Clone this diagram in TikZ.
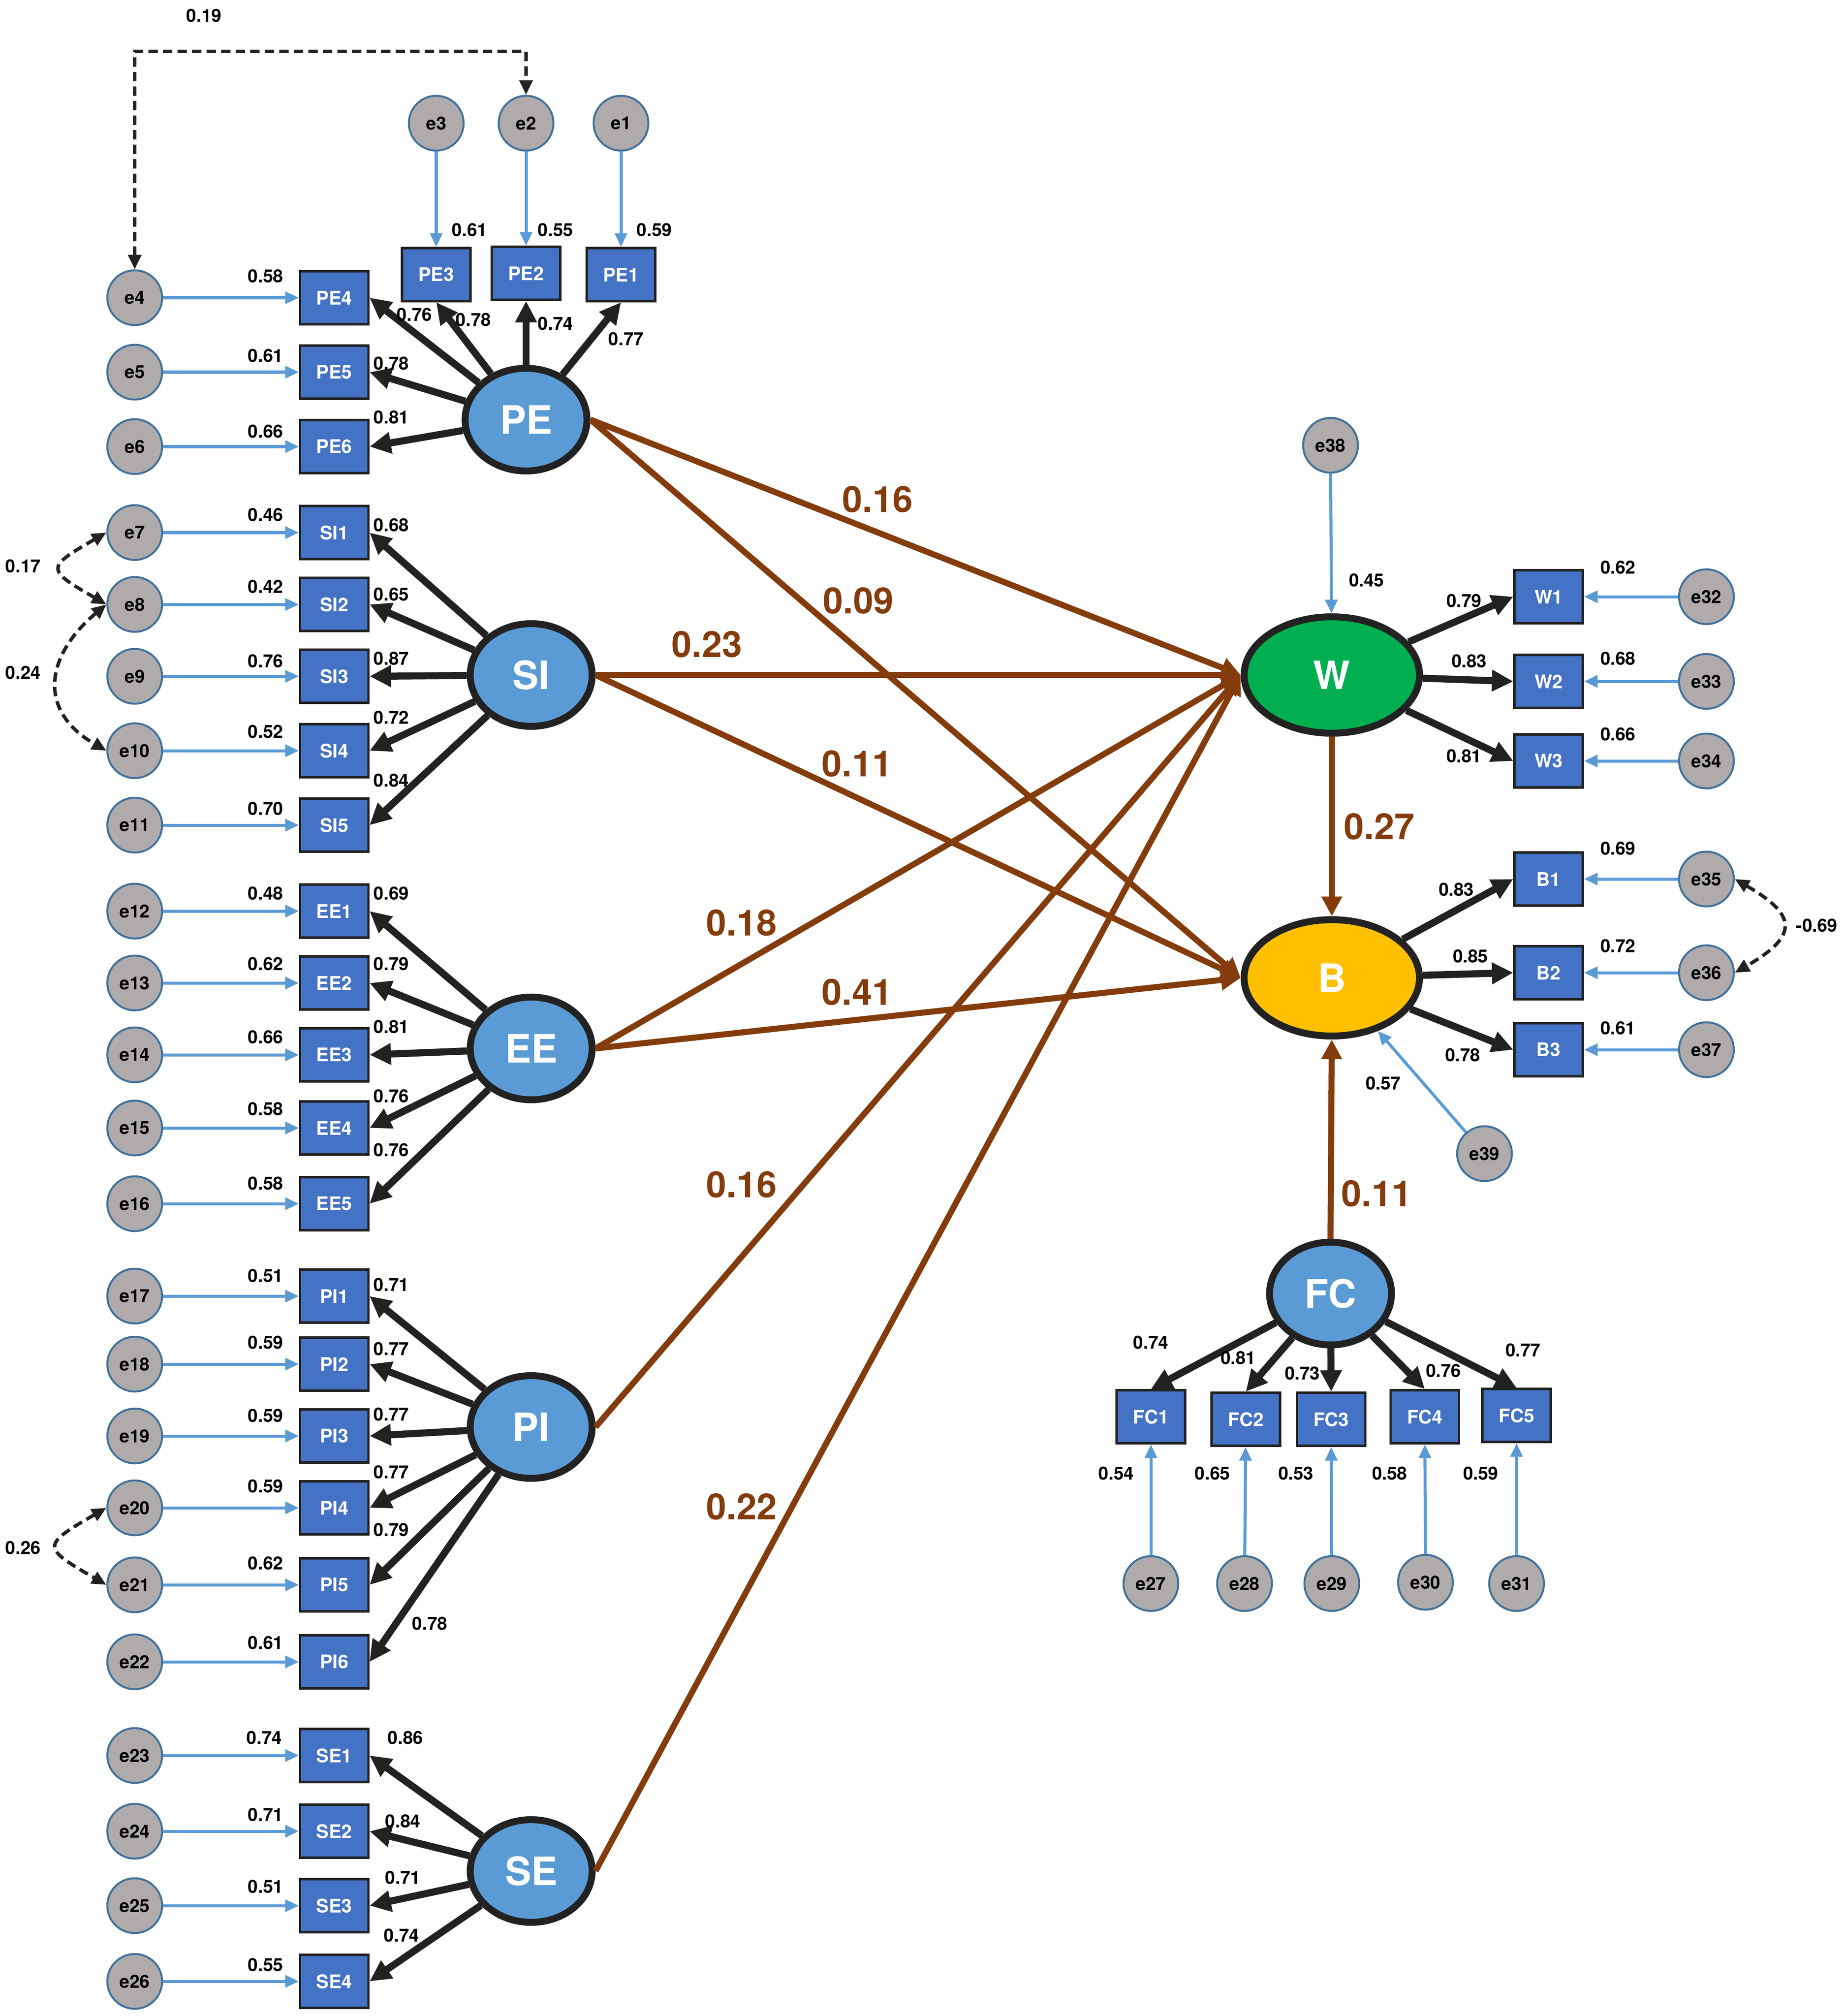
\documentclass[tikz,border=0pt]{standalone}
\usepackage{fontspec}
\setmainfont{TeX Gyre Heros}
\usetikzlibrary{arrows.meta,shapes.geometric}

\definecolor{errgray}{HTML}{AFABAB}
\definecolor{errline}{HTML}{41719C}
\definecolor{obsblue}{HTML}{4472C4}
\definecolor{latblue}{HTML}{5B9BD5}
\definecolor{wgreen}{HTML}{00B050}
\definecolor{byellow}{HTML}{FFC000}
\definecolor{pathbrown}{HTML}{843C0C}
\definecolor{darkline}{HTML}{222222}

\tikzset{
  latent/.style={ellipse, draw=darkline, line width=4.6pt, fill=latblue, text=white,
    font=\fontsize{26}{30}\selectfont\bfseries, minimum width=2.85cm, minimum height=2.4cm, inner sep=0pt},
  biglatent/.style={latent, minimum width=4.1cm, minimum height=2.72cm},
  obs/.style={rectangle, draw=darkline, line width=1.5pt, fill=obsblue, text=white,
    font=\fontsize{12.5}{14}\selectfont\bfseries, minimum width=1.6cm, minimum height=1.24cm, inner sep=0pt},
  err/.style={circle, draw=errline, line width=1.3pt, fill=errgray, text=black,
    font=\fontsize{12}{14}\selectfont\bfseries, minimum size=1.28cm, inner sep=0pt},
  num/.style={font=\fontsize{12}{14}\selectfont\bfseries, inner sep=0pt},
  coef/.style={font=\fontsize{24}{28}\selectfont\bfseries, text=pathbrown, inner sep=0pt},
  load/.style={draw=darkline, line width=4.7pt, -{Triangle[length=0.5cm,width=0.48cm]}},
  struct/.style={draw=pathbrown, line width=4pt, -{Triangle[length=0.46cm,width=0.46cm]}},
  errarr/.style={draw=latblue, line width=2pt, -{Triangle[length=0.32cm,width=0.28cm]}},
  corr/.style={draw=darkline, line width=2.3pt, dash pattern=on 0.22cm off 0.12cm,
    {Triangle[length=0.34cm,width=0.3cm]}-{Triangle[length=0.34cm,width=0.3cm]}}
}

\begin{document}
\begin{tikzpicture}[x=0.03cm, y=0.03cm]
    \useasboundingbox (0,-1571) rectangle (1437.67,0);

    \node[latent] (PE) at (410,-327) {PE};
    \node[latent] (SI) at (414,-526) {SI};
    \node[latent] (EE) at (414,-817) {EE};
    \node[latent] (PI) at (414,-1112) {PI};
    \node[latent] (SE) at (414,-1458) {SE};
    \node[latent] (FC) at (1037,-1008) {FC};
    \node[biglatent, fill=wgreen] (W) at (1038,-526) {W};
    \node[biglatent, fill=byellow] (B) at (1038,-762) {B};

    \node[err] (e3) at (340,-96) {e3};
    \node[err] (e2) at (410,-96) {e2};
    \node[err] (e1) at (484,-96) {e1};
    \node[obs] (PE3) at (340,-214) {PE3};
    \node[obs] (PE2) at (410,-213) {PE2};
    \node[obs] (PE1) at (484,-214) {PE1};
    \draw[errarr] (e3) -- (PE3);
    \draw[errarr] (e2) -- (PE2);
    \draw[errarr] (e1) -- (PE1);
    \draw[load] (PE) -- (PE3.south);
    \draw[load] (PE) -- (PE2.south);
    \draw[load] (PE) -- (PE1.south);
    \node[num] (vPE3) at (366,-179) {0.61};
    \node[num] (vPE2) at (433,-179) {0.55};
    \node[num] (vPE1) at (510,-179) {0.59};
    \node[num] (lPE3) at (369,-249) {0.78};
    \node[num] (lPE2) at (433,-252) {0.74};
    \node[num] (lPE1) at (488,-264) {0.77};

    \node[err] (e4) at (105,-232) {e4};
    \node[err] (e5) at (105,-290) {e5};
    \node[err] (e6) at (105,-348) {e6};
    \node[obs] (PE4) at (260.5,-232) {PE4};
    \node[obs] (PE5) at (260.5,-290) {PE5};
    \node[obs] (PE6) at (260.5,-348) {PE6};
    \draw[errarr] (e4) -- (PE4);
    \draw[errarr] (e5) -- (PE5);
    \draw[errarr] (e6) -- (PE6);
    \draw[load] (PE) -- (PE4.east);
    \draw[load] (PE) -- (PE5.east);
    \draw[load] (PE) -- (PE6.east);
    \node[num] (vPE4) at (207,-215) {0.58};
    \node[num] (vPE5) at (207,-277) {0.61};
    \node[num] (vPE6) at (207,-336) {0.66};
    \node[num] (lPE4) at (323,-245) {0.76};
    \node[num] (lPE5) at (305,-283) {0.78};
    \node[num] (lPE6) at (305,-325) {0.81};

    \coordinate (c19) at (257,-40);
    \draw[corr] (e4.north) |- (c19) -| (e2.north);
    \node[num] (r19) at (159,-12) {0.19};

    \node[err] (e7) at (105,-415) {e7};
    \node[err] (e8) at (105,-471) {e8};
    \node[err] (e9) at (105,-527) {e9};
    \node[err] (e10) at (105,-585) {e10};
    \node[err] (e11) at (105,-643) {e11};
    \node[obs] (SI1) at (260.5,-415) {SI1};
    \node[obs] (SI2) at (260.5,-471) {SI2};
    \node[obs] (SI3) at (260.5,-527) {SI3};
    \node[obs] (SI4) at (260.5,-585) {SI4};
    \node[obs] (SI5) at (260.5,-643) {SI5};
    \draw[errarr] (e7) -- (SI1);
    \draw[errarr] (e8) -- (SI2);
    \draw[errarr] (e9) -- (SI3);
    \draw[errarr] (e10) -- (SI4);
    \draw[errarr] (e11) -- (SI5);
    \draw[load] (SI) -- (SI1.east);
    \draw[load] (SI) -- (SI2.east);
    \draw[load] (SI) -- (SI3.east);
    \draw[load] (SI) -- (SI4.east);
    \draw[load] (SI) -- (SI5.east);
    \node[num] (vSI1) at (207,-401) {0.46};
    \node[num] (vSI2) at (207,-457) {0.42};
    \node[num] (vSI3) at (207,-515) {0.76};
    \node[num] (vSI4) at (207,-570) {0.52};
    \node[num] (vSI5) at (207,-630) {0.70};
    \node[num] (lSI1) at (305,-409) {0.68};
    \node[num] (lSI2) at (305,-463) {0.65};
    \node[num] (lSI3) at (305,-513) {0.87};
    \node[num] (lSI4) at (305,-559) {0.72};
    \node[num] (lSI5) at (305,-608) {0.84};

    \draw[corr] (e7.west) to[out=210,in=150,looseness=2.5] (e8.west);
    \draw[corr] (e8.west) to[out=220,in=150,looseness=1.4] (e10.west);
    \node[num] (r17) at (18,-441) {0.17};
    \node[num] (r24) at (18,-524) {0.24};

    \node[err] (e12) at (105,-710) {e12};
    \node[err] (e13) at (105,-766) {e13};
    \node[err] (e14) at (105,-822) {e14};
    \node[err] (e15) at (105,-879) {e15};
    \node[err] (e16) at (105,-938) {e16};
    \node[obs] (EE1) at (260.5,-710) {EE1};
    \node[obs] (EE2) at (260.5,-766) {EE2};
    \node[obs] (EE3) at (260.5,-822) {EE3};
    \node[obs] (EE4) at (260.5,-879) {EE4};
    \node[obs] (EE5) at (260.5,-938) {EE5};
    \draw[errarr] (e12) -- (EE1);
    \draw[errarr] (e13) -- (EE2);
    \draw[errarr] (e14) -- (EE3);
    \draw[errarr] (e15) -- (EE4);
    \draw[errarr] (e16) -- (EE5);
    \draw[load] (EE) -- (EE1.east);
    \draw[load] (EE) -- (EE2.east);
    \draw[load] (EE) -- (EE3.east);
    \draw[load] (EE) -- (EE4.east);
    \draw[load] (EE) -- (EE5.east);
    \node[num] (vEE1) at (207,-696) {0.48};
    \node[num] (vEE2) at (207,-751) {0.62};
    \node[num] (vEE3) at (207,-808) {0.66};
    \node[num] (vEE4) at (207,-864) {0.58};
    \node[num] (vEE5) at (207,-922) {0.58};
    \node[num] (lEE1) at (305,-696) {0.69};
    \node[num] (lEE2) at (305,-751) {0.79};
    \node[num] (lEE3) at (305,-800) {0.81};
    \node[num] (lEE4) at (305,-854) {0.76};
    \node[num] (lEE5) at (305,-896) {0.76};

    \node[err] (e17) at (105,-1010) {e17};
    \node[err] (e18) at (105,-1063) {e18};
    \node[err] (e19) at (105,-1119) {e19};
    \node[err] (e20) at (105,-1175) {e20};
    \node[err] (e21) at (105,-1235) {e21};
    \node[err] (e22) at (105,-1295) {e22};
    \node[obs] (PI1) at (260.5,-1010) {PI1};
    \node[obs] (PI2) at (260.5,-1063) {PI2};
    \node[obs] (PI3) at (260.5,-1119) {PI3};
    \node[obs] (PI4) at (260.5,-1175) {PI4};
    \node[obs] (PI5) at (260.5,-1235) {PI5};
    \node[obs] (PI6) at (260.5,-1295) {PI6};
    \draw[errarr] (e17) -- (PI1);
    \draw[errarr] (e18) -- (PI2);
    \draw[errarr] (e19) -- (PI3);
    \draw[errarr] (e20) -- (PI4);
    \draw[errarr] (e21) -- (PI5);
    \draw[errarr] (e22) -- (PI6);
    \draw[load] (PI) -- (PI1.east);
    \draw[load] (PI) -- (PI2.east);
    \draw[load] (PI) -- (PI3.east);
    \draw[load] (PI) -- (PI4.east);
    \draw[load] (PI) -- (PI5.east);
    \draw[load] (PI) -- (PI6.east);
    \node[num] (vPI1) at (207,-994) {0.51};
    \node[num] (vPI2) at (207,-1046) {0.59};
    \node[num] (vPI3) at (207,-1103) {0.59};
    \node[num] (vPI4) at (207,-1158) {0.59};
    \node[num] (vPI5) at (207,-1218) {0.62};
    \node[num] (vPI6) at (207,-1280) {0.61};
    \node[num] (lPI1) at (305,-1001) {0.71};
    \node[num] (lPI2) at (305,-1051) {0.77};
    \node[num] (lPI3) at (305,-1102) {0.77};
    \node[num] (lPI4) at (305,-1147) {0.77};
    \node[num] (lPI5) at (305,-1192) {0.79};
    \node[num] (lPI6) at (335,-1265) {0.78};

    \draw[corr] (e20.west) to[out=210,in=150,looseness=2.5] (e21.west);
    \node[num] (r26) at (18,-1206) {0.26};

    \node[err] (e23) at (105,-1368) {e23};
    \node[err] (e24) at (105,-1427) {e24};
    \node[err] (e25) at (105,-1485) {e25};
    \node[err] (e26) at (105,-1544) {e26};
    \node[obs] (SE1) at (260.5,-1368) {SE1};
    \node[obs] (SE2) at (260.5,-1427) {SE2};
    \node[obs] (SE3) at (260.5,-1485) {SE3};
    \node[obs] (SE4) at (260.5,-1544) {SE4};
    \draw[errarr] (e23) -- (SE1);
    \draw[errarr] (e24) -- (SE2);
    \draw[errarr] (e25) -- (SE3);
    \draw[errarr] (e26) -- (SE4);
    \draw[load] (SE) -- (SE1.east);
    \draw[load] (SE) -- (SE2.east);
    \draw[load] (SE) -- (SE3.east);
    \draw[load] (SE) -- (SE4.east);
    \node[num] (vSE1) at (206,-1354) {0.74};
    \node[num] (vSE2) at (207,-1414) {0.71};
    \node[num] (vSE3) at (207,-1470) {0.51};
    \node[num] (vSE4) at (207,-1531) {0.55};
    \node[num] (lSE1) at (316,-1354) {0.86};
    \node[num] (lSE2) at (314,-1419) {0.84};
    \node[num] (lSE3) at (314,-1463) {0.71};
    \node[num] (lSE4) at (313,-1508) {0.74};

    \node[err] (e38) at (1037,-347) {e38};
    \draw[errarr] (e38) -- (W);
    \node[num] (v38) at (1065,-452) {0.45};

    \node[obs] (W1) at (1207,-465) {W1};
    \node[obs] (W2) at (1207,-531) {W2};
    \node[obs] (W3) at (1207,-593) {W3};
    \node[err] (e32) at (1330,-465) {e32};
    \node[err] (e33) at (1330,-531) {e33};
    \node[err] (e34) at (1330,-593) {e34};
    \draw[errarr] (e32) -- (W1);
    \draw[errarr] (e33) -- (W2);
    \draw[errarr] (e34) -- (W3);
    \draw[load] (W) -- (W1.west);
    \draw[load] (W) -- (W2.west);
    \draw[load] (W) -- (W3.west);
    \node[num] (vW1) at (1261,-442) {0.62};
    \node[num] (vW2) at (1261,-513) {0.68};
    \node[num] (vW3) at (1261,-572) {0.66};
    \node[num] (lW1) at (1141,-468) {0.79};
    \node[num] (lW2) at (1145,-515) {0.83};
    \node[num] (lW3) at (1141,-589) {0.81};

    \node[obs] (B1) at (1207,-685) {B1};
    \node[obs] (B2) at (1207,-758) {B2};
    \node[obs] (B3) at (1207,-818) {B3};
    \node[err] (e35) at (1330,-685) {e35};
    \node[err] (e36) at (1330,-758) {e36};
    \node[err] (e37) at (1330,-818) {e37};
    \draw[errarr] (e35) -- (B1);
    \draw[errarr] (e36) -- (B2);
    \draw[errarr] (e37) -- (B3);
    \draw[load] (B) -- (B1.west);
    \draw[load] (B) -- (B2.west);
    \draw[load] (B) -- (B3.west);
    \node[num] (vB1) at (1261,-661) {0.69};
    \node[num] (vB2) at (1261,-737) {0.72};
    \node[num] (vB3) at (1261,-801) {0.61};
    \node[num] (lB1) at (1135,-693) {0.83};
    \node[num] (lB2) at (1146,-745) {0.85};
    \node[num] (lB3) at (1140,-822) {0.78};
    \draw[corr] (e35.east) to[out=-30,in=30,looseness=2] (e36.east);
    \node[num] (r69) at (1416,-721) {-0.69};

    \node[err] (e39) at (1157,-899) {e39};
    \draw[errarr] (e39) -- (B);
    \node[num] (v39) at (1078,-844) {0.57};

    \node[obs] (FC1) at (897,-1104) {FC1};
    \node[obs] (FC2) at (971,-1106) {FC2};
    \node[obs] (FC3) at (1037.5,-1106) {FC3};
    \node[obs] (FC4) at (1110.5,-1104) {FC4};
    \node[obs] (FC5) at (1182,-1103) {FC5};
    \node[err] (e27) at (897,-1234) {e27};
    \node[err] (e28) at (970,-1234) {e28};
    \node[err] (e29) at (1038,-1234) {e29};
    \node[err] (e30) at (1111,-1233) {e30};
    \node[err] (e31) at (1182,-1234) {e31};
    \draw[errarr] (e27) -- (FC1);
    \draw[errarr] (e28) -- (FC2);
    \draw[errarr] (e29) -- (FC3);
    \draw[errarr] (e30) -- (FC4);
    \draw[errarr] (e31) -- (FC5);
    \draw[load] (FC) -- (FC1.north);
    \draw[load] (FC) -- (FC2.north);
    \draw[load] (FC) -- (FC3.north);
    \draw[load] (FC) -- (FC4.north);
    \draw[load] (FC) -- (FC5.north);
    \node[num] (lFC1) at (897,-1046) {0.74};
    \node[num] (lFC2) at (965,-1058) {0.81};
    \node[num] (lFC3) at (1015,-1070) {0.73};
    \node[num] (lFC4) at (1125,-1068) {0.76};
    \node[num] (lFC5) at (1187,-1052) {0.77};
    \node[num] (vFC1) at (870,-1148) {0.54};
    \node[num] (vFC2) at (945,-1148) {0.65};
    \node[num] (vFC3) at (1010,-1148) {0.53};
    \node[num] (vFC4) at (1083,-1148) {0.58};
    \node[num] (vFC5) at (1154,-1148) {0.59};

    \draw[struct] (PE.east) -- (W.west);
    \draw[struct] (PE.east) -- (B.west);
    \draw[struct] (SI.east) -- (W.west);
    \draw[struct] (SI.east) -- (B.west);
    \draw[struct] (EE.east) -- (W.west);
    \draw[struct] (EE.east) -- (B.west);
    \draw[struct] (PI.east) -- (W.west);
    \draw[struct] (SE.east) -- (W.west);
    \draw[struct] (W.south) -- (B.north);
    \draw[struct] (FC.north) -- (B.south);

    \node[coef] (pPEW) at (684,-389) {0.16};
    \node[coef] (pPEB) at (669,-468) {0.09};
    \node[coef] (pSIW) at (551,-502) {0.23};
    \node[coef] (pSIB) at (668,-595) {0.11};
    \node[coef] (pEEW) at (578,-719) {0.18};
    \node[coef] (pEEB) at (668,-773) {0.41};
    \node[coef] (pPIW) at (578,-923) {0.16};
    \node[coef] (pSEW) at (578,-1174) {0.22};
    \node[coef] (pWB) at (1075,-644) {0.27};
    \node[coef] (pFCB) at (1073,-930) {0.11};
\end{tikzpicture}
\end{document}
